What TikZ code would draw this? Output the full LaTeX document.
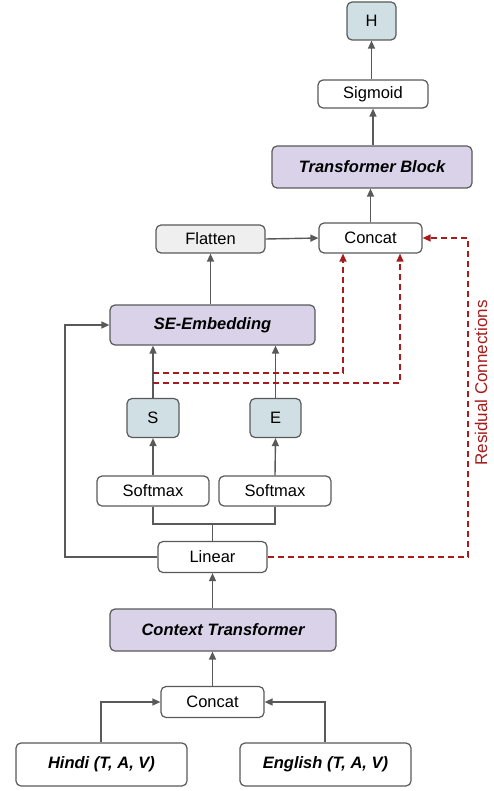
\documentclass[tikz,border=0pt]{standalone}
\usepackage{fontspec}
\setmainfont{Liberation Sans}
\usetikzlibrary{arrows.meta,positioning}
\definecolor{lg}{HTML}{595959}
\definecolor{rr}{HTML}{A61C1C}
\definecolor{bluef}{HTML}{D0DFE3}
\definecolor{lavf}{HTML}{D9D2E9}
\definecolor{greyf}{HTML}{EFEFEF}
\begin{document}
\begin{tikzpicture}[x=1pt,y=-1pt,
  box/.style={draw=lg,line width=1.2pt,rounded corners=5pt,inner sep=0pt,font=\fontsize{16.5}{18}\selectfont},
  arr/.style={draw=lg,line width=1.4pt,-{Triangle[length=8pt,width=7pt]}},
  ln/.style={draw=lg,line width=1.4pt},
  res/.style={draw=rr,line width=1.4pt,dash pattern=on 6pt off 4pt},
  resarr/.style={res,-{Triangle[length=8pt,width=7pt]}}]
\useasboundingbox (0,0) rectangle (493,791);
\node[box,fill=bluef,minimum width=49pt,minimum height=38pt] (H) at (371.5,21) {H};
\node[box,fill=white,minimum width=110pt,minimum height=28pt] (sig) at (373,94) {Sigmoid};
\node[box,fill=lavf,minimum width=200pt,minimum height=42pt] (tb) at (372,167) {\bfseries\itshape Transformer Block};
\node[box,fill=white,minimum width=103pt,minimum height=30pt] (cat) at (370.5,238) {Concat};
\node[box,fill=greyf,minimum width=109pt,minimum height=28pt] (fl) at (210.5,239) {Flatten};
\node[box,fill=lavf,minimum width=205pt,minimum height=40pt] (se) at (212.5,325) {\bfseries\itshape SE-Embedding};
\node[box,fill=bluef,minimum width=52pt,minimum height=39pt] (S) at (153,418) {S};
\node[box,fill=bluef,minimum width=51pt,minimum height=39pt] (E) at (275.5,418) {E};
\node[box,fill=white,minimum width=112pt,minimum height=30pt] (sm1) at (153,491) {Softmax};
\node[box,fill=white,minimum width=112pt,minimum height=30pt] (sm2) at (275,491) {Softmax};
\node[box,fill=white,minimum width=109pt,minimum height=31pt] (lin) at (212.5,557) {Linear};
\node[box,fill=lavf,minimum width=226pt,minimum height=42pt] (ct) at (223,630) {\bfseries\itshape Context Transformer};
\node[box,fill=white,minimum width=103pt,minimum height=31pt] (cat2) at (212.5,702) {Concat};
\node[box,fill=white,minimum width=171pt,minimum height=43pt] (hi) at (101.5,764.5) {\bfseries\itshape Hindi (T, A, V)};
\node[box,fill=white,minimum width=171pt,minimum height=43pt] (en) at (325.5,764.5) {\bfseries\itshape English (T, A, V)};
% bottom
\draw[arr] (hi.north -| 101,0) |- (cat2.west);
\draw[arr] (en.north -| 325,0) |- (cat2.east);
\draw[arr] (cat2.north) -- (ct.south -| cat2.north);
\draw[arr] (ct.north -| lin.south) -- (lin.south);
\coordinate (j) at (212.5,524);
\draw[ln] (lin.north) -- (j);
\draw[ln] (sm1.south) |- (j) -| (sm2.south);
\draw[arr] (lin.west) -| (65,325) -- (se.west);
\draw[arr] (sm1.north) -- (S.south);
\draw[arr] (sm2.north) -- (E.south);
\draw[arr] (S.north) -- (se.south -| S.north);
\draw[arr] (E.north) -- (se.south -| E.north);
\draw[arr] (se.north -| fl.south) -- (fl.south);
\draw[arr] (fl.east) -- (cat.west);
\draw[arr] (cat.north) -- (tb.south -| cat.north);
\draw[arr] (tb.north -| sig.south) -- (sig.south);
\draw[arr] (sig.north -| H.south) -- (H.south);
% residual
\coordinate (r1) at (153,373);
\coordinate (r2) at (153,383);
\draw[resarr] (r1) -| (cat.south -| 343,0);
\draw[resarr] (r2) -| (cat.south -| 400,0);
\draw[resarr] (lin.east) -| (468,238) -- (cat.east);
\node[text=rr,rotate=90,font=\fontsize{17}{19}\selectfont] (rc) at (481,383) {Residual Connections};
\end{tikzpicture}
\end{document}
